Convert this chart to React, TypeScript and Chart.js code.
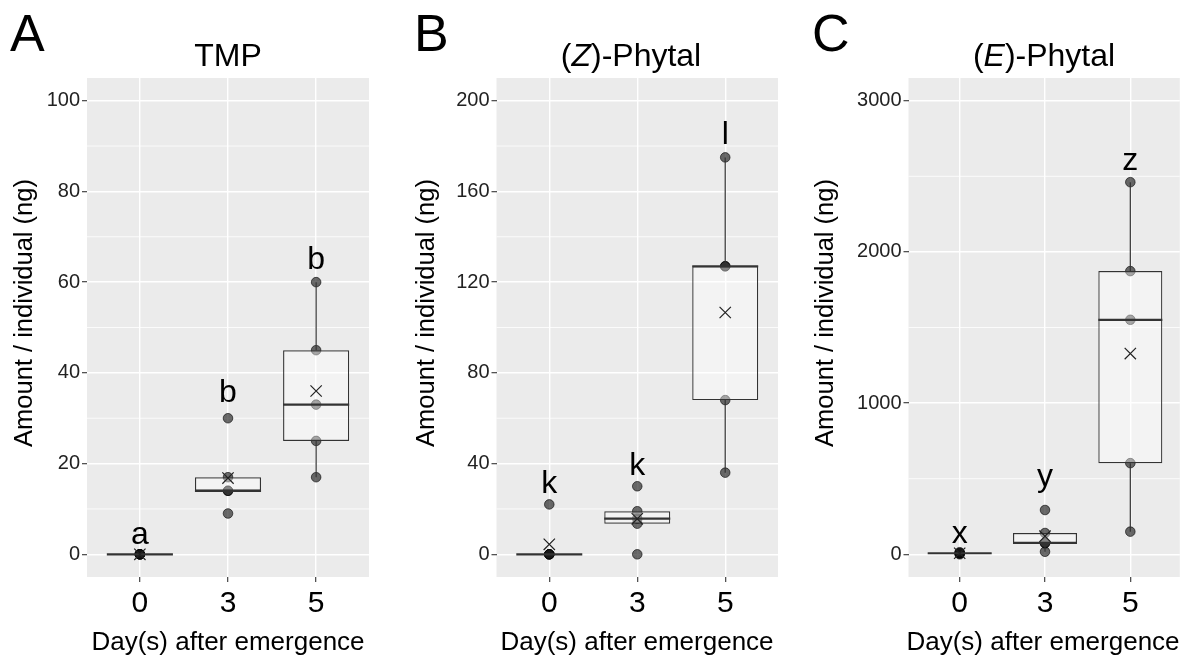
import React, { useEffect, useRef } from 'react';
import { Chart, registerables } from 'chart.js';

Chart.register(...registerables);

const FONT = "'Liberation Sans', Arial, Helvetica, sans-serif";
const W = 1189;
const H = 657;

// ---------------- data ----------------
const dayLabels = ['0', '3', '5'];
const xAxisTitle = 'Day(s) after emergence';
const yAxisTitle = 'Amount / individual (ng)';

const tmpValues = [
  [0, 0, 0, 0, 0],
  [9, 14, 14, 17, 30],
  [17, 25, 33, 45, 60],
];
const tmpTicks = [0, 20, 40, 60, 80, 100];
const tmpLetters = ['a', 'b', 'b'];
const tmpLetterAt = [2.3, 33.5, 63];

const zPhytalValues = [
  [0, 0, 0, 0, 22],
  [0, 13.5, 15.7, 19, 30],
  [36, 68, 127, 127, 175],
];
const zPhytalTicks = [0, 40, 80, 120, 160, 200];
const zPhytalLetters = ['k', 'k', 'l'];
const zPhytalLetterAt = [27, 35, 181];

const ePhytalValues = [
  [0, 5, 7, 9, 14],
  [17, 72, 76, 141, 293],
  [150, 603, 1551, 1873, 2461],
];
const ePhytalTicks = [0, 1000, 2000, 3000];
const ePhytalLetters = ['x', 'y', 'z'];
const ePhytalLetterAt = [77, 455, 2541];

// ---------------- layout ----------------
type Seg = { text: string; italic?: boolean };
type PanelCfg = {
  tag: string;
  title: Seg[];
  values: number[][];
  ticks: number[];
  letters: string[];
  letterAt: number[];
  yMin: number;
  yMax: number;
  left: number;
  right: number;
  xMax: number;
  tagX: number;
  yTitleX: number;
  titleX: number;
  xTitleX: number;
};

const panels: PanelCfg[] = [
  {
    tag: 'A', title: [{ text: 'TMP' }], values: tmpValues, ticks: tmpTicks,
    letters: tmpLetters, letterAt: tmpLetterAt, yMin: -5, yMax: 105,
    left: 87, right: 369, xMax: 2.6, tagX: 10, yTitleX: 25, titleX: 228, xTitleX: 228,
  },
  {
    tag: 'B', title: [{ text: '(' }, { text: 'Z', italic: true }, { text: ')-Phytal' }],
    values: zPhytalValues, ticks: zPhytalTicks, letters: zPhytalLetters, letterAt: zPhytalLetterAt,
    yMin: -10, yMax: 210, left: 496.5, right: 778, xMax: 2.6, tagX: 414, yTitleX: 427,
    titleX: 631, xTitleX: 637,
  },
  {
    tag: 'C', title: [{ text: '(' }, { text: 'E', italic: true }, { text: ')-Phytal' }],
    values: ePhytalValues, ticks: ePhytalTicks, letters: ePhytalLetters, letterAt: ePhytalLetterAt,
    yMin: -150, yMax: 3150, left: 908.5, right: 1189, xMax: 2.58, tagX: 812, yTitleX: 826,
    titleX: 1044, xTitleX: 1043,
  },
];

const PANEL_TOP = 78;
const PANEL_BOTTOM = 577;
const Y_AXIS_W = 60;
const X_AXIS_H = 80;

// ---------------- stats ----------------
function quantile(sorted: number[], p: number) {
  const h = (sorted.length - 1) * p;
  const lo = Math.floor(h);
  const hi = Math.ceil(h);
  return sorted[lo] + (h - lo) * (sorted[hi] - sorted[lo]);
}

function boxStats(vals: number[]) {
  const s = [...vals].sort((a, b) => a - b);
  const q1 = quantile(s, 0.25);
  const med = quantile(s, 0.5);
  const q3 = quantile(s, 0.75);
  const iqr = q3 - q1;
  const lo = Math.min(...s.filter((v) => v >= q1 - 1.5 * iqr));
  const hi = Math.max(...s.filter((v) => v <= q3 + 1.5 * iqr));
  const mean = s.reduce((a, b) => a + b, 0) / s.length;
  return { q1, med, q3, lo, hi, mean };
}

function drawSegs(ctx: CanvasRenderingContext2D, segs: Seg[], cx: number, y: number, size: number) {
  const fontFor = (it?: boolean) => `${it ? 'italic ' : ''}${size}px ${FONT}`;
  let total = 0;
  const widths = segs.map((s) => {
    ctx.font = fontFor(s.italic);
    const w = ctx.measureText(s.text).width;
    total += w;
    return w;
  });
  let x = cx - total / 2;
  ctx.textAlign = 'left';
  ctx.textBaseline = 'alphabetic';
  segs.forEach((s, i) => {
    ctx.font = fontFor(s.italic);
    ctx.fillText(s.text, x, y);
    x += widths[i];
  });
}

function makeConfig(cfg: PanelCfg): any {
  const stats = cfg.values.map(boxStats);
  const points = cfg.values.flatMap((vals, i) => vals.map((v) => ({ x: i, y: v })));

  const plugin = {
    id: 'ggbox' + cfg.tag,
    beforeDraw(chart: any) {
      const { ctx, chartArea: a } = chart;
      ctx.save();
      ctx.fillStyle = '#ebebeb';
      ctx.fillRect(a.left, a.top, a.right - a.left, a.bottom - a.top);
      ctx.restore();
    },
    beforeDatasetsDraw(chart: any) {
      const { ctx, chartArea: a } = chart;
      const ys = chart.scales.y;
      ctx.save();
      ctx.strokeStyle = '#ffffff';
      ctx.lineWidth = 0.8;
      for (let i = 0; i < cfg.ticks.length - 1; i++) {
        const v = (cfg.ticks[i] + cfg.ticks[i + 1]) / 2;
        const py = ys.getPixelForValue(v);
        ctx.beginPath();
        ctx.moveTo(a.left, py);
        ctx.lineTo(a.right, py);
        ctx.stroke();
      }
      ctx.restore();
    },
    afterDatasetDraw(chart: any, args: any) {
      const { ctx } = chart;
      const xs = chart.scales.x;
      const ys = chart.scales.y;
      if (args.index === 0) {
        ctx.save();
        ctx.strokeStyle = '#333333';
        ctx.lineWidth = 1.2;
        stats.forEach((s, i) => {
          const px = xs.getPixelForValue(i);
          ctx.beginPath();
          ctx.moveTo(px, ys.getPixelForValue(s.q3));
          ctx.lineTo(px, ys.getPixelForValue(s.hi));
          ctx.moveTo(px, ys.getPixelForValue(s.q1));
          ctx.lineTo(px, ys.getPixelForValue(s.lo));
          ctx.stroke();
        });
        ctx.restore();
      }
      if (args.index === 1) {
        const meta = chart.getDatasetMeta(1);
        ctx.save();
        ctx.strokeStyle = '#333333';
        ctx.lineWidth = 2.2;
        stats.forEach((s, i) => {
          const el = meta.data[i];
          const py = ys.getPixelForValue(s.med);
          ctx.beginPath();
          ctx.moveTo(el.x - el.width / 2, py);
          ctx.lineTo(el.x + el.width / 2, py);
          ctx.stroke();
        });
        ctx.restore();
      }
    },
    afterDatasetsDraw(chart: any) {
      const { ctx } = chart;
      const xs = chart.scales.x;
      const ys = chart.scales.y;
      ctx.save();
      ctx.fillStyle = '#000';
      ctx.font = `32px ${FONT}`;
      ctx.textAlign = 'center';
      ctx.textBaseline = 'alphabetic';
      cfg.letters.forEach((l, i) => {
        ctx.fillText(l, xs.getPixelForValue(i), ys.getPixelForValue(cfg.letterAt[i]));
      });
      ctx.restore();
    },
    afterDraw(chart: any) {
      const { ctx } = chart;
      ctx.save();
      ctx.fillStyle = '#000';
      ctx.font = `52px ${FONT}`;
      ctx.textAlign = 'left';
      ctx.textBaseline = 'alphabetic';
      ctx.fillText(cfg.tag, cfg.tagX, 51);
      drawSegs(ctx, cfg.title, cfg.titleX, 66, 32);
      ctx.font = `26px ${FONT}`;
      ctx.textAlign = 'center';
      ctx.fillText(xAxisTitle, cfg.xTitleX, 650);
      ctx.font = `25.5px ${FONT}`;
      ctx.translate(cfg.yTitleX, 313);
      ctx.rotate(-Math.PI / 2);
      ctx.textBaseline = 'middle';
      ctx.fillText(yAxisTitle, 0, 0);
      ctx.restore();
    },
  };

  return {
    type: 'bar',
    data: {
      datasets: [
        {
          type: 'scatter',
          label: 'samples',
          data: points,
          order: 3,
          pointRadius: 4.8,
          backgroundColor: 'rgba(20,20,20,0.62)',
          borderColor: 'rgba(0,0,0,0.6)',
          borderWidth: 1,
        },
        {
          type: 'bar',
          label: 'box',
          data: stats.map((s, i) => ({ x: i, y: [s.q1, s.q3] })),
          order: 2,
          backgroundColor: 'rgba(255,255,255,0.4)',
          borderColor: '#333333',
          borderWidth: 1.2,
          borderSkipped: false,
          barPercentage: 0.75,
          categoryPercentage: 1,
        },
        {
          type: 'scatter',
          label: 'mean',
          data: stats.map((s, i) => ({ x: i, y: s.mean })),
          order: 1,
          pointStyle: 'crossRot',
          pointRadius: 8,
          borderColor: '#222222',
          backgroundColor: 'rgba(0,0,0,0)',
          borderWidth: 1.2,
        },
      ],
    },
    options: {
      responsive: false,
      animation: false,
      devicePixelRatio: 1,
      events: [],
      layout: {
        padding: {
          left: cfg.left - Y_AXIS_W,
          right: W - cfg.right,
          top: PANEL_TOP,
          bottom: H - PANEL_BOTTOM - X_AXIS_H,
        },
      },
      plugins: {
        legend: { display: false },
        tooltip: { enabled: false },
        title: { display: false },
      },
      scales: {
        x: {
          type: 'linear',
          min: -0.6,
          max: cfg.xMax,
          offset: false,
          afterBuildTicks: (s: any) => {
            s.ticks = dayLabels.map((_, i) => ({ value: i }));
          },
          afterFit: (s: any) => {
            s.height = X_AXIS_H;
          },
          grid: {
            color: '#ffffff',
            lineWidth: 1.4,
            offset: false,
            drawTicks: true,
            tickLength: 5,
            tickColor: '#333333',
            tickWidth: 1.1,
          },
          border: { display: false },
          ticks: {
            callback: (_v: any, i: number) => dayLabels[i],
            font: { size: 30, family: FONT },
            color: '#000',
            padding: 4,
            maxRotation: 0,
            autoSkip: false,
          },
        },
        y: {
          type: 'linear',
          min: cfg.yMin,
          max: cfg.yMax,
          afterBuildTicks: (s: any) => {
            s.ticks = cfg.ticks.map((v) => ({ value: v }));
          },
          afterFit: (s: any) => {
            s.width = Y_AXIS_W;
          },
          grid: {
            color: '#ffffff',
            lineWidth: 1.4,
            drawTicks: true,
            tickLength: 5,
            tickColor: '#333333',
            tickWidth: 1.1,
          },
          border: { display: false },
          ticks: {
            callback: (v: any) => String(v),
            font: { size: 20, family: FONT },
            color: '#222',
            padding: 2,
            autoSkip: false,
          },
        },
      },
    },
    plugins: [plugin],
  };
}

function Panel({ cfg }: { cfg: PanelCfg }) {
  const ref = useRef<HTMLCanvasElement>(null);
  useEffect(() => {
    if (!ref.current) return;
    const chart = new Chart(ref.current, makeConfig(cfg));
    return () => chart.destroy();
  }, [cfg]);
  return (
    <canvas
      ref={ref}
      width={W}
      height={H}
      style={{ position: 'absolute', left: 0, top: 0, width: W, height: H }}
    />
  );
}

export default function App() {
  return (
    <div style={{ position: 'fixed', left: 0, top: 0, width: W, height: H, background: '#fff', overflow: 'hidden' }}>
      {panels.map((p) => (
        <Panel key={p.tag} cfg={p} />
      ))}
    </div>
  );
}
